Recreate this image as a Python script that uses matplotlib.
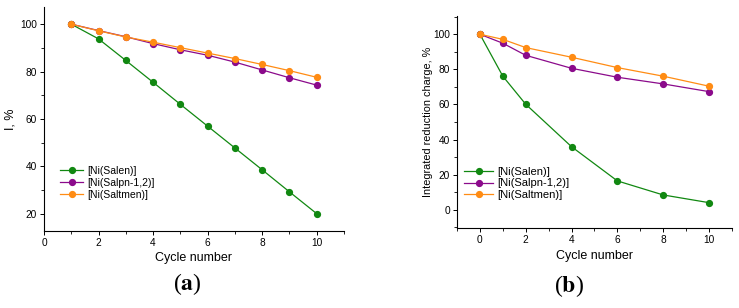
import matplotlib
matplotlib.use('Agg')
from matplotlib import pyplot as plt
from matplotlib.ticker import MultipleLocator

plt.rcParams['font.family'] = ['Liberation Sans', 'DejaVu Sans']
plt.rcParams['mathtext.fontset'] = 'stix'

labels = ['[Ni(Salen)]', '[Ni(Salpn-1,2)]', '[Ni(Saltmen)]']
colors = ['#118811', '#8b0a8b', '#ff8c14']

# panel (a)
cycles_a = [1, 2, 3, 4, 5, 6, 7, 8, 9, 10]
salen_a = [100, 93.8, 84.7, 75.5, 66.2, 57.0, 47.8, 38.6, 29.3, 20.1]
salpn_a = [100, 97.3, 94.7, 91.8, 89.2, 86.9, 84.0, 80.7, 77.4, 74.3]
saltmen_a = [100, 97.2, 94.6, 92.4, 90.1, 87.8, 85.5, 83.0, 80.4, 77.6]

# panel (b)
cycles_b = [0, 1, 2, 4, 6, 8, 10]
salen_b = [100, 76.1, 60.1, 35.9, 16.4, 8.4, 4.0]
salpn_b = [100, 94.9, 88.0, 80.6, 75.5, 71.7, 67.3]
saltmen_b = [100, 97.1, 92.4, 86.9, 81.0, 76.1, 70.4]

fig = plt.figure(figsize=(7.39, 3.08), dpi=100)
ax1 = fig.add_axes([0.0595, 0.25, 0.406, 0.727])
ax2 = fig.add_axes([0.6184, 0.26, 0.372, 0.688])

for ax, x, series in [(ax1, cycles_a, [salen_a, salpn_a, saltmen_a]),
                      (ax2, cycles_b, [salen_b, salpn_b, saltmen_b])]:
    for y, c, lab in zip(series, colors, labels):
        ax.plot(x, y, '-o', color=c, lw=0.9, ms=4.2, label=lab)
    ax.spines['top'].set_visible(False)
    ax.spines['right'].set_visible(False)
    ax.spines['left'].set_linewidth(0.8)
    ax.spines['bottom'].set_linewidth(0.8)
    ax.xaxis.set_major_locator(MultipleLocator(2))
    ax.xaxis.set_minor_locator(MultipleLocator(1))
    ax.yaxis.set_major_locator(MultipleLocator(20))
    ax.yaxis.set_minor_locator(MultipleLocator(10))
    ax.tick_params(which='major', length=3, width=0.7, labelsize=7.3, pad=2)
    ax.tick_params(which='minor', length=2, width=0.6)

ax1.set_xlim(0, 11)
ax1.set_ylim(12.8, 107.2)
ax1.set_xlabel('Cycle number', fontsize=9, labelpad=3)
ax1.set_ylabel('I, %', fontsize=9)
ax1.yaxis.set_label_coords(-0.09, 0.5)
ax1.legend(loc='lower left', bbox_to_anchor=(0.04, 0.12), frameon=False,
           fontsize=7.5, handlelength=2.2, handletextpad=0.4, labelspacing=0.2,
           borderaxespad=0)

ax2.set_xlim(-1, 11)
ax2.set_ylim(-10.4, 110.4)
ax2.set_xlabel('Cycle number', fontsize=9, labelpad=4)
ax2.set_ylabel('Integrated reduction charge, %', fontsize=7.8)
ax2.yaxis.set_label_coords(-0.087, 0.5)
ax2.legend(loc='lower left', bbox_to_anchor=(0.01, 0.11), frameon=False,
           fontsize=8, handlelength=2.6, handletextpad=0.4, labelspacing=0.15,
           borderaxespad=0)

fig.text(0.253, 0.078, r'($\mathbf{a}$)', fontsize=17, family='Liberation Serif',
         ha='center', va='center')
fig.text(0.770, 0.072, r'($\mathbf{b}$)', fontsize=17, family='Liberation Serif',
         ha='center', va='center')

fig.savefig('out.png', dpi=100)
